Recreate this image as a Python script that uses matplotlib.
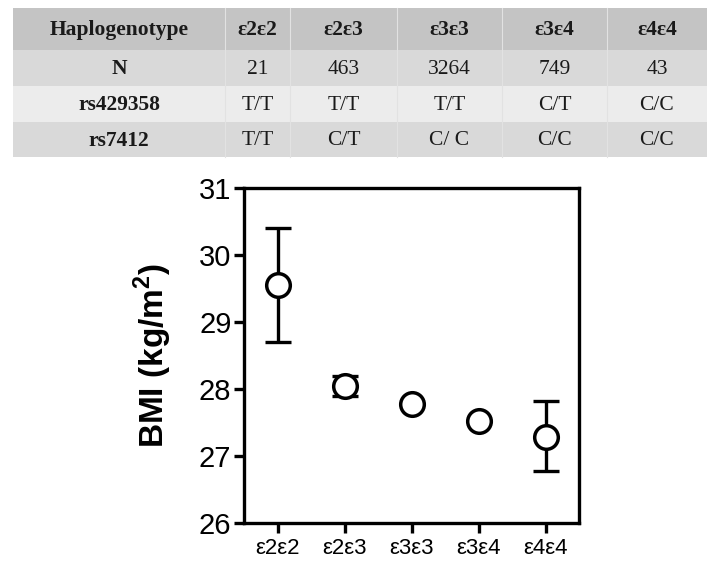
import matplotlib
matplotlib.use("Agg")
import matplotlib.pyplot as plt
from matplotlib.patches import Rectangle

# table contents
col_labels = ["Haplogenotype", "ε2ε2", "ε2ε3", "ε3ε3", "ε3ε4", "ε4ε4"]
row_n = ["N", "21", "463", "3264", "749", "43"]
row_rs429358 = ["rs429358", "T/T", "T/T", "T/T", "C/T", "C/C"]
row_rs7412 = ["rs7412", "T/T", "C/T", "C/ C", "C/C", "C/C"]

# plot data
genotypes = ["ε2ε2", "ε2ε3", "ε3ε3", "ε3ε4", "ε4ε4"]
bmi_mean = [29.55, 28.05, 27.78, 27.52, 27.29]
bmi_upper = [30.40, 28.20, 27.78, 27.52, 27.82]
bmi_lower = [28.70, 27.90, 27.78, 27.52, 26.77]

plt.rcParams["mathtext.fontset"] = "custom"
plt.rcParams["mathtext.rm"] = "Liberation Sans:bold"
plt.rcParams["mathtext.bf"] = "Liberation Sans:bold"

W, H = 707, 577
fig = plt.figure(figsize=(W / 100, H / 100), dpi=100)

# --- table drawn in pixel coords on a full-figure axes ---
tab = fig.add_axes([0, 0, 1, 1])
tab.set_xlim(0, W)
tab.set_ylim(H, 0)
tab.axis("off")

col_edges = [13, 225, 290, 397, 502, 607, 707]
row_edges = [8, 50, 86, 122, 157]
row_colors = ["#c4c4c4", "#d9d9d9", "#ececec", "#d9d9d9"]
rows = [col_labels, row_n, row_rs429358, row_rs7412]

for r, cells in enumerate(rows):
    y0, y1 = row_edges[r], row_edges[r + 1]
    tab.add_patch(Rectangle((col_edges[0], y0), col_edges[-1] - col_edges[0], y1 - y0,
                            facecolor=row_colors[r], edgecolor="none"))
    for c, txt in enumerate(cells):
        x0, x1 = col_edges[c], col_edges[c + 1]
        bold = (r == 0) or (c == 0)
        tab.text((x0 + x1) / 2, (y0 + y1) / 2 + 1, txt, ha="center", va="center",
                 fontsize=15.5, family=["Liberation Serif", "DejaVu Serif"],
                 fontweight="bold" if bold else "normal", color="#1a1a1a")
for xe in col_edges[1:-1]:
    tab.plot([xe, xe], [row_edges[0], row_edges[-1]], color="#e2e2e2", lw=0.8)

# --- BMI plot ---
ax = fig.add_axes([244 / W, 1 - 523 / H, (579 - 244) / W, (523 - 188) / H])
x = list(range(len(genotypes)))
yerr = [[m - lo for m, lo in zip(bmi_mean, bmi_lower)],
        [hi - m for m, hi in zip(bmi_mean, bmi_upper)]]
ax.errorbar(x, bmi_mean, yerr=yerr, fmt="none", ecolor="black", elinewidth=2.4,
            capsize=9.5, capthick=2.4, zorder=2)
ax.plot(x, bmi_mean, "o", ms=17, mfc="white", mec="black", mew=2.5, zorder=3)

ax.set_xlim(-0.5, 4.5)
ax.set_ylim(26, 31)
ax.set_yticks([26, 27, 28, 29, 30, 31])
ax.set_xticks(x)
ax.set_xticklabels(genotypes, family=["Liberation Sans", "DejaVu Sans"], fontsize=16)
for lab in ax.get_yticklabels():
    lab.set_family("Liberation Sans")
    lab.set_fontsize(21)
for s in ax.spines.values():
    s.set_linewidth(2.4)
ax.tick_params(axis="both", width=2.4, length=7, direction="out")
ax.tick_params(axis="x", pad=4)
ax.tick_params(axis="y", pad=2)
ax.set_ylabel(r"BMI (kg/m$^{2}$)", fontsize=24, fontweight="bold",
              family="Liberation Sans", labelpad=18)

fig.savefig("out.png", dpi=100)
